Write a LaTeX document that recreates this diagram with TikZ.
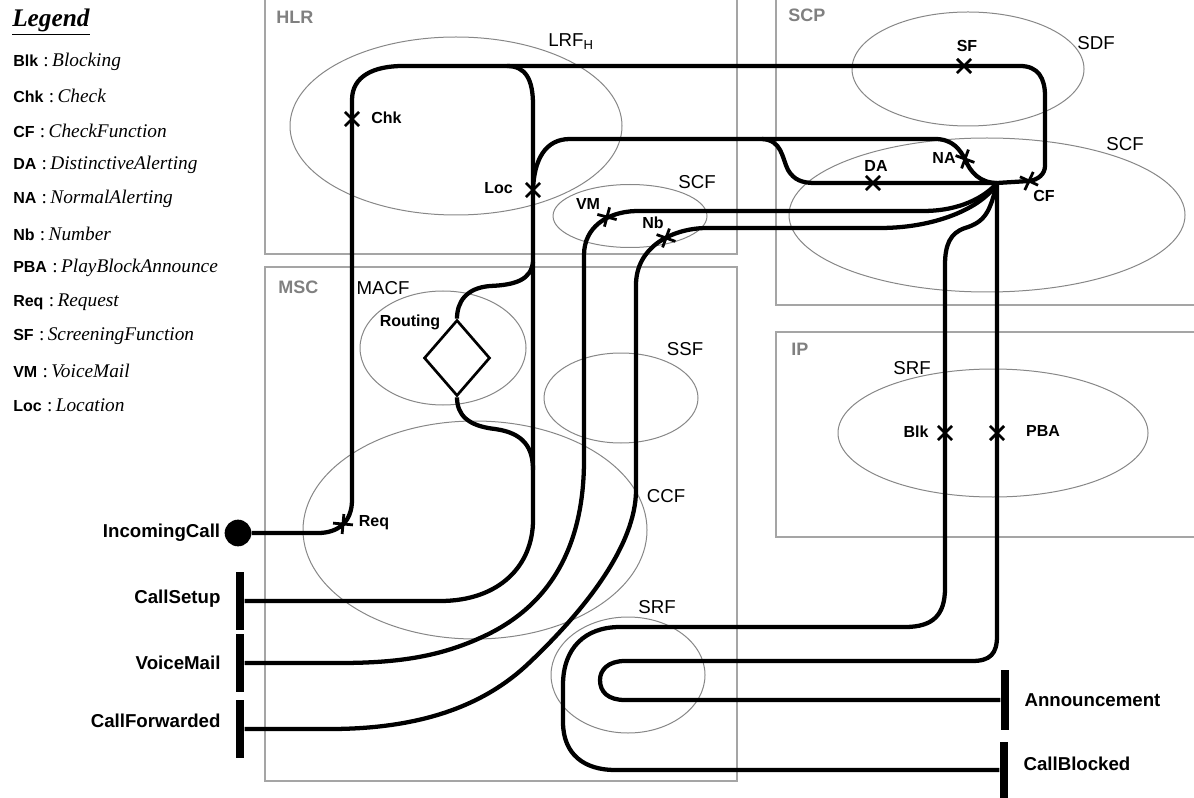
\documentclass[tikz,border=0pt]{standalone}
\usepackage{fontspec}
\setmainfont{Liberation Sans}
\newfontfamily\timesfont{Liberation Serif}
\usetikzlibrary{positioning, shapes.geometric, shapes.misc}

\definecolor{boxgray}{RGB}{165,165,165}
\definecolor{ringgray}{RGB}{135,135,135}
\definecolor{namegray}{RGB}{128,128,128}

\newcommand{\lgitem}[2]{{\fontsize{12}{14}\selectfont\bfseries #1}{\timesfont\fontsize{14.5}{17}\selectfont\hspace{4pt}:\hspace{2.5pt}\itshape #2}}

\begin{document}
\begin{tikzpicture}[
    x=0.75pt, y=-0.75pt,
    comp/.style={draw=boxgray, line width=0.9pt},
    compname/.style={anchor=west, inner sep=0pt, text=namegray, font=\fontsize{13.5}{16}\selectfont\bfseries},
    role/.style={draw=ringgray, line width=0.75pt, ellipse, inner sep=0pt},
    rolename/.style={inner sep=0pt, font=\fontsize{14}{16}\selectfont},
    ucm/.style={line width=3.2pt, line join=round},
    resp/.style={cross out, draw, line width=2.1pt, minimum size=8.5pt, inner sep=0pt},
    resplbl/.style={inner sep=0pt, font=\fontsize{12}{14}\selectfont\bfseries},
    startpt/.style={circle, fill=black, minimum size=20pt, inner sep=0pt},
    endbar/.style={rectangle, fill=black, minimum width=6.5pt, minimum height=43.5pt, inner sep=0pt},
    endlbl/.style={inner sep=0pt, font=\fontsize{14}{16}\selectfont\bfseries},
    legendrow/.style={anchor=west, inner sep=0pt}
]
\useasboundingbox (0,0) rectangle (1194,798);

% Legend
\node[anchor=west, inner sep=0pt, font=\timesfont\fontsize{19}{22}\selectfont\bfseries\itshape] (legend) at (12,22) {\underline{Legend}};
\foreach \abbr/\full [count=\i from 0] in {Blk/Blocking, Chk/Check, CF/CheckFunction, DA/DistinctiveAlerting, NA/NormalAlerting, Nb/Number, PBA/PlayBlockAnnounce, Req/Request, SF/ScreeningFunction, VM/VoiceMail, Loc/Location}
    \node[legendrow] (lg\abbr) at (13,62+34.3*\i) {\lgitem{\abbr}{\full}};

% Components
\draw[comp] (265,-5) rectangle (737,254);
\draw[comp] (265,267) rectangle (737,781);
\draw[comp] (776,-5) rectangle (1200,305);
\draw[comp] (776,332) rectangle (1200,537);
\node[compname] (hlrname) at (276,17) {HLR};
\node[compname] (mscname) at (278,287) {MSC};
\node[compname] (scpname) at (788,15) {SCP};
\node[compname] (ipname) at (791,349) {IP};

% Roles
\node[role, minimum width=249pt, minimum height=133.5pt] (lrf) at (456,126) {};
\node[role, minimum width=174pt, minimum height=85.5pt] (sdf) at (968,69) {};
\node[role, minimum width=297pt, minimum height=115.5pt] (scfscp) at (987,215) {};
\node[role, minimum width=115.5pt, minimum height=47.25pt] (scfhlr) at (630,216) {};
\node[role, minimum width=124.5pt, minimum height=85.5pt] (macf) at (443,348) {};
\node[role, minimum width=115.5pt, minimum height=67.5pt] (ssf) at (621,398) {};
\node[role, minimum width=258pt, minimum height=163.5pt] (ccf) at (475,530) {};
\node[role, minimum width=115.5pt, minimum height=87pt] (srfmsc) at (628,675) {};
\node[role, minimum width=232.5pt, minimum height=96pt] (srfip) at (993,433) {};

\node[rolename, anchor=west] (lrfname) at (548,42) {LRF\textsubscript{H}};
\node[rolename] (scfhlrname) at (697,182) {SCF};
\node[rolename] (sdfname) at (1096,43) {SDF};
\node[rolename] (scfscpname) at (1125,144) {SCF};
\node[rolename] (macfname) at (383,288) {MACF};
\node[rolename] (ssfname) at (685,349) {SSF};
\node[rolename] (ccfname) at (666,496) {CCF};
\node[rolename] (srfmscname) at (657,607) {SRF};
\node[rolename] (srfipname) at (912,368) {SRF};

% Start and end points
\node[startpt] (incall) at (238,533) {};
\node[endlbl, left=3pt of incall] (incalllbl) {IncomingCall};
\node[endbar] (setupbar) at (240,601) {};
\node[endbar] (vmbar) at (240,663) {};
\node[endbar] (fwdbar) at (240,729) {};
\node[endbar, minimum height=45pt] (annbar) at (1005,700) {};
\node[endbar, minimum height=42pt] (blockbar) at (1004,770) {};
\node[endlbl, left=11pt of setupbar, yshift=2pt] (setuplbl) {CallSetup};
\node[endlbl, left=11pt of vmbar] (vmlbl) {VoiceMail};
\node[endlbl, left=11pt of fwdbar, yshift=6pt] (fwdlbl) {CallForwarded};
\node[endlbl, right=11pt of annbar] (annlbl) {Announcement};
\node[endlbl, right=11pt of blockbar, yshift=5pt] (blocklbl) {CallBlocked};

% Responsibilities
\node[resp] (chk) at (352,119) {};
\node[resp] (loc) at (533,190) {};
\node[resp] (sf) at (964,66) {};
\node[resp, rotate=25] (na) at (965,159) {};
\node[resp] (da) at (873,183) {};
\node[resp, rotate=20] (cf) at (1029,181) {};
\node[resp, rotate=30] (vm) at (607,217) {};
\node[resp, rotate=25] (nb) at (666,238) {};
\node[resp] (blk) at (945,433) {};
\node[resp] (pba) at (997,433) {};
\node[resp, rotate=40] (req) at (343,524) {};
\node[draw, diamond, line width=2pt, aspect=0.87, minimum width=49.5pt, minimum height=57pt, inner sep=0pt] (routing) at (457,358) {};

\node[resplbl, anchor=west] (chklbl) at (371,118) {Chk};
\node[resplbl, anchor=east] (loclbl) at (513,188) {Loc};
\node[resplbl] (sflbl) at (967,46) {SF};
\node[resplbl] (nalbl) at (944,158) {NA};
\node[resplbl] (dalbl) at (876,166) {DA};
\node[resplbl] (cflbl) at (1044,196) {CF};
\node[resplbl] (vmlbl2) at (588,204) {VM};
\node[resplbl] (nblbl) at (653,223) {Nb};
\node[resplbl] (blklbl) at (916,432) {Blk};
\node[resplbl] (pbalbl) at (1043,431) {PBA};
\node[resplbl] (reqlbl) at (374,523) {Req};
\node[resplbl] (routinglbl) at (410,322) {Routing};

\coordinate (fork) at (997,183);

% Paths
\draw[ucm] (incall) -- (318,533) .. controls (338,533) and (352,522) .. (352,500)
    -- (chk.center) -- (352,100) .. controls (352,76) and (374,66) .. (403,66)
    -- (sf.center) -- (1020,66) .. controls (1038,66) and (1045,78) .. (1045,96)
    -- (1045,166) .. controls (1045,174) and (1038,180) .. (cf.center) -- (fork);
\draw[ucm] (507,66) .. controls (526,66) and (533,80) .. (533,105)
    -- (loc.center) -- (533,520) .. controls (533,565) and (500,601) .. (440,601) -- (setupbar);
\draw[ucm] (loc.center) .. controls (534,160) and (545,139) .. (570,139) -- (935,139)
    .. controls (953,139) and (960,150) .. (na.center) .. controls (970,172) and (980,183) .. (fork);
\draw[ucm] (762,139) .. controls (782,140) and (782,158) .. (788,170)
    .. controls (794,180) and (802,183) .. (815,183) -- (da.center) -- (fork);
\draw[ucm] (fork) .. controls (985,197) and (960,211) .. (923,211) -- (636,211)
    .. controls (606,212) and (584,228) .. (584,255) -- (584,460)
    .. controls (584,540) and (555,605) .. (480,638) .. controls (440,656) and (400,663) .. (340,663) -- (vmbar);
\draw[ucm] (fork) .. controls (985,205) and (940,228) .. (880,228) -- (705,228)
    .. controls (670,229) and (636,248) .. (636,285) -- (636,490)
    .. controls (636,545) and (585,610) .. (529,663) .. controls (484,706) and (420,729) .. (330,729) -- (fwdbar);
\draw[ucm] (fork) .. controls (990,212) and (985,222) .. (965,228) .. controls (950,233) and (945,245) .. (945,265)
    -- (blk.center) -- (945,588) .. controls (945,615) and (933,627) .. (905,627) -- (620,627)
    .. controls (585,627) and (563,648) .. (563,685) -- (563,722) .. controls (563,755) and (585,770) .. (615,770) -- (blockbar);
\draw[ucm] (fork) -- (pba.center) -- (997,636) .. controls (997,654) and (990,661) .. (972,661) -- (625,661)
    .. controls (608,661) and (600,670) .. (600,680) .. controls (600,692) and (608,700) .. (625,700) -- (annbar);
\draw[ucm] (533,262) .. controls (531,280) and (515,285) .. (490,286) .. controls (466,288) and (457,302) .. (routing.north);
\draw[ucm] (routing.south) .. controls (457,415) and (468,426) .. (495,429) .. controls (524,433) and (533,448) .. (533,470);

\end{tikzpicture}
\end{document}
